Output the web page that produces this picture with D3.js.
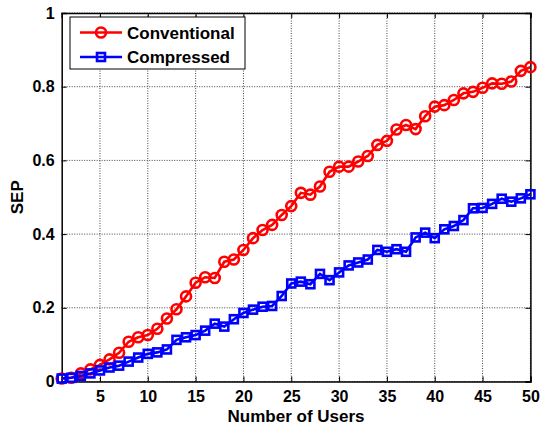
<!DOCTYPE html>
<html><head><meta charset="utf-8">
<script src="https://cdn.jsdelivr.net/npm/d3@7"></script>
<style>body{margin:0;background:#fff}svg{display:block}text{font-family:Arial,"Liberation Sans",sans-serif;font-weight:bold}</style>
</head><body><svg id="c" width="540" height="425"></svg>
<script>
const users = d3.range(1, 51);
const conventional = [0.008,0.010,0.022,0.033,0.045,0.060,0.078,0.108,0.120,0.126,
0.143,0.171,0.196,0.231,0.268,0.283,0.281,0.325,0.331,0.357,
0.389,0.411,0.425,0.452,0.476,0.512,0.507,0.529,0.569,0.583,
0.583,0.597,0.612,0.642,0.653,0.684,0.696,0.685,0.720,0.746,
0.750,0.764,0.782,0.786,0.797,0.809,0.808,0.814,0.843,0.853];
const compressed = [0.008,0.010,0.015,0.022,0.030,0.038,0.043,0.054,0.065,0.075,
0.079,0.087,0.113,0.120,0.126,0.138,0.157,0.149,0.169,0.186,
0.195,0.203,0.205,0.232,0.266,0.271,0.264,0.292,0.275,0.296,
0.315,0.323,0.331,0.357,0.352,0.359,0.352,0.391,0.404,0.389,
0.413,0.422,0.438,0.470,0.471,0.482,0.496,0.488,0.497,0.508];
const xTicks = [5,10,15,20,25,30,35,40,45,50];
const yTicks = [0,0.2,0.4,0.6,0.8,1];
const seriesNames = ["Conventional","Compressed"];
const colors = ["#ff0000","#0000ff"];

const svg = d3.select("#c");
const L = 61.7, R = 530.4, T = 13, B = 381.5;
const x = d3.scaleLinear().domain([1,50]).range([L,R]);
const y = d3.scaleLinear().domain([0,1]).range([B,T]);

// grid
const g = svg.append("g");
g.selectAll(".gx").data(xTicks).join("line")
  .attr("x1",d=>x(d)).attr("x2",d=>x(d)).attr("y1",T).attr("y2",B)
  .attr("stroke","#444").attr("stroke-width",1).attr("stroke-dasharray","1,1.5");
g.selectAll(".gy").data(yTicks).join("line")
  .attr("x1",L).attr("x2",R).attr("y1",d=>y(d)).attr("y2",d=>y(d))
  .attr("stroke","#444").attr("stroke-width",1).attr("stroke-dasharray","1,1.5");

// axes
const ax = svg.append("g").attr("transform",`translate(0,${B})`)
  .call(d3.axisBottom(x).tickValues(xTicks).tickSize(-5).tickPadding(9).tickFormat(d3.format("d")));
const ay = svg.append("g").attr("transform",`translate(${L},0)`)
  .call(d3.axisLeft(y).tickValues(yTicks).tickSize(-5).tickPadding(7).tickFormat(d=>d===0?"0":d===1?"1":d3.format(".1f")(d)));
const axt = svg.append("g").attr("transform",`translate(0,${T})`)
  .call(d3.axisTop(x).tickValues(xTicks).tickSize(-5).tickFormat(""));
const ayr = svg.append("g").attr("transform",`translate(${R},0)`)
  .call(d3.axisRight(y).tickValues(yTicks).tickSize(-5).tickFormat(""));
[ax,ay,axt,ayr].forEach(a=>{
  a.selectAll("path").attr("stroke","#000").attr("stroke-width",1.5);
  a.selectAll("line").attr("stroke","#000");
  a.selectAll("text").attr("font-size",16).attr("font-weight","bold").attr("fill","#000").attr("font-family","Arial, 'Liberation Sans', sans-serif");
});

// series
const line = d3.line().x((d,i)=>x(users[i])).y(d=>y(d));
const data = [conventional, compressed];
const MR = 5, MS = 8, MW = 2.6;
data.forEach((vals,si)=>{
  svg.append("path").datum(vals).attr("d",line).attr("fill","none")
    .attr("stroke",colors[si]).attr("stroke-width",2.6);
  const gm = svg.append("g");
  if(si===0){
    gm.selectAll("circle").data(vals).join("circle")
      .attr("cx",(d,i)=>x(users[i])).attr("cy",d=>y(d)).attr("r",MR)
      .attr("fill","none").attr("stroke",colors[si]).attr("stroke-width",MW);
  } else {
    gm.selectAll("rect").data(vals).join("rect")
      .attr("x",(d,i)=>x(users[i])-MS/2).attr("y",d=>y(d)-MS/2).attr("width",MS).attr("height",MS)
      .attr("fill","none").attr("stroke",colors[si]).attr("stroke-width",MW);
  }
});

// labels
svg.append("text").attr("x",(L+R)/2).attr("y",422).attr("text-anchor","middle")
  .attr("font-size",17).text("Number of Users");
svg.append("text").attr("transform",`translate(23,${(T+B)/2}) rotate(-90)`).attr("text-anchor","middle")
  .attr("font-size",17).text("SEP");

// legend
const lg = svg.append("g");
lg.append("rect").attr("x",70).attr("y",17).attr("width",175).attr("height",52)
  .attr("fill","#fff").attr("stroke","#000").attr("stroke-width",1);
seriesNames.forEach((n,i)=>{
  const cy = 32.5 + i*24.5;
  lg.append("line").attr("x1",80).attr("x2",122).attr("y1",cy).attr("y2",cy)
    .attr("stroke",colors[i]).attr("stroke-width",2.6);
  if(i===0) lg.append("circle").attr("cx",101).attr("cy",cy).attr("r",MR)
    .attr("fill","none").attr("stroke",colors[i]).attr("stroke-width",MW);
  else lg.append("rect").attr("x",101-MS/2).attr("y",cy-MS/2).attr("width",MS).attr("height",MS)
    .attr("fill","none").attr("stroke",colors[i]).attr("stroke-width",MW);
  lg.append("text").attr("x",127).attr("y",cy+6).attr("font-size",17).text(n);
});
</script></body></html>
